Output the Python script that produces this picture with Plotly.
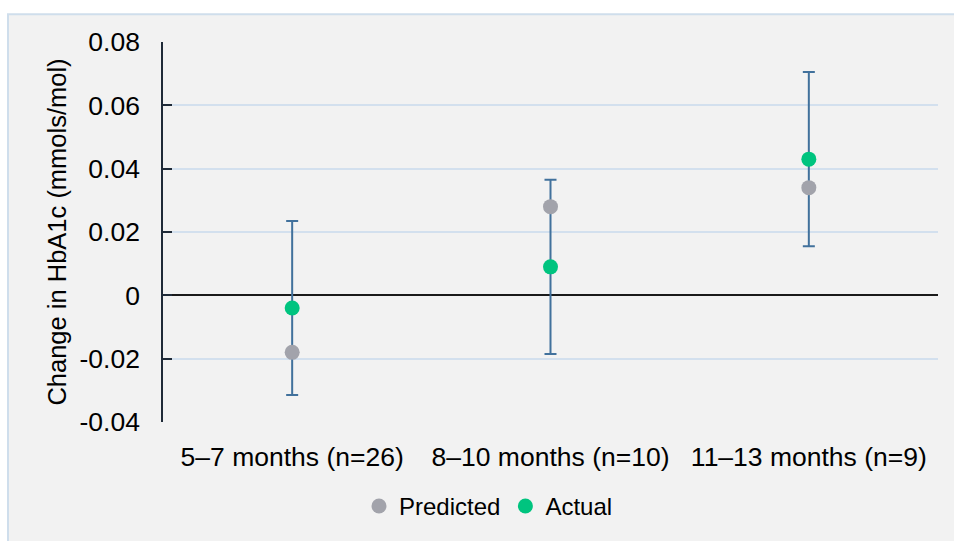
import plotly.graph_objects as go

categories = ["5–7 months (n=26)", "8–10 months (n=10)", "11–13 months (n=9)"]
predicted = [-0.018, 0.028, 0.034]
actual = [-0.004, 0.009, 0.043]
actual_err = [0.0275, 0.0275, 0.0275]
y_tickvals = [0.08, 0.06, 0.04, 0.02, 0, -0.02, -0.04]
y_ticktext = ["0.08", "0.06", "0.04", "0.02", "0", "-0.02", "-0.04"]

FONT = "Liberation Sans, Arial, sans-serif"

fig = go.Figure()

# error bars (drawn beneath markers)
fig.add_trace(go.Scatter(
    x=categories, y=actual, mode="markers",
    marker=dict(size=1, color="rgba(0,0,0,0)"),
    error_y=dict(type="data", array=actual_err, visible=True,
                 color="#41719c", thickness=2, width=6),
    showlegend=False, hoverinfo="skip"))

fig.add_trace(go.Scatter(
    x=categories, y=predicted, mode="markers", name="Predicted",
    marker=dict(size=15, color="#a2a3ab")))

fig.add_trace(go.Scatter(
    x=categories, y=actual, mode="markers", name="Actual",
    marker=dict(size=15, color="#00c47f")))

# outer chart frame
fig.add_shape(type="rect", xref="paper", yref="paper",
              x0=-0.2, x1=1.06, y0=-0.35, y1=1.0727,
              fillcolor="#f2f2f2", line=dict(color="#cfdeec", width=2),
              layer="below")

fig.update_layout(
    width=954, height=541,
    margin=dict(l=163, r=16, t=42, b=114),
    paper_bgcolor="white", plot_bgcolor="#f2f2f2",
    font=dict(family=FONT, size=26, color="#000000"),
    showlegend=True,
    legend=dict(orientation="h", x=0.42, xanchor="center", y=-0.222, yanchor="middle",
                font=dict(size=24), itemwidth=30, tracegroupgap=0,
                bgcolor="rgba(0,0,0,0)"),
    xaxis=dict(type="category", range=[-0.5, 2.5], showgrid=False, zeroline=False,
               showline=False, ticks="", tickfont=dict(size=26.5), ticklabelstandoff=16),
    yaxis=dict(range=[-0.04, 0.08], tickvals=y_tickvals, ticktext=y_ticktext,
               showgrid=True, gridcolor="#d3e0ee", gridwidth=1.5,
               zeroline=True, zerolinecolor="#1a1a1a", zerolinewidth=1.5,
               showline=True, linecolor="#1f2a38", linewidth=1.5,
               ticks="inside", ticklen=9, tickcolor="#1f2a38", tickwidth=1.5,
               tickfont=dict(size=26.5), ticklabelstandoff=16,
               title=dict(text="Change in HbA1c (mmols/mol)", font=dict(size=25.5), standoff=6)),
)

fig.write_html("out.html", config={"displayModeBar": False},
               post_script="document.body.style.margin='0';document.body.style.overflow='hidden';")
